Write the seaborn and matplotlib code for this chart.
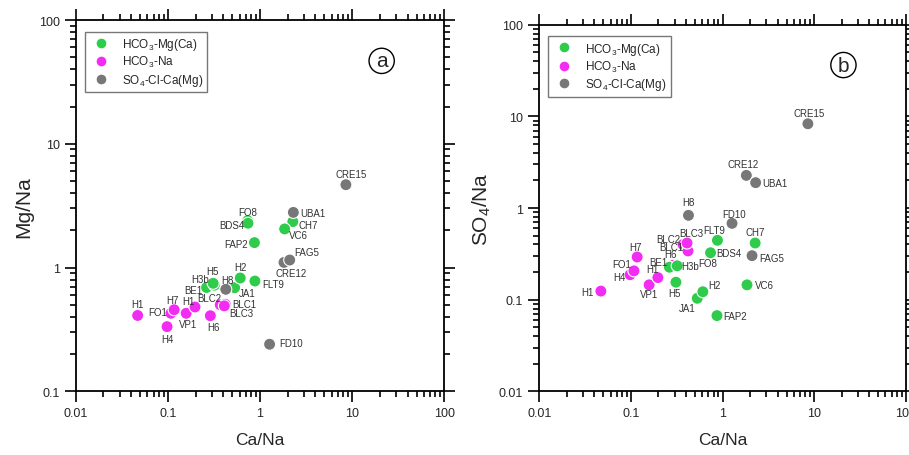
import numpy as np
import pandas as pd
import matplotlib
matplotlib.use("Agg")
import matplotlib.pyplot as plt
import seaborn as sns

# sample data
names = ["H1", "H4", "FO1", "H7", "VP1", "H1", "H6", "BLC2", "BLC1", "BLC3",
         "BE1", "H3b", "H5", "JA1", "H2", "FAP2", "FO8", "BDS4", "FLT9", "CH7", "VC6",
         "CRE15", "CRE12", "UBA1", "H8", "FD10", "FAG5"]
groups = ["HCO3-Na"] * 10 + ["HCO3-Mg(Ca)"] * 11 + ["SO4-Cl-Ca(Mg)"] * 6
ca_na = [0.047, 0.098, 0.108, 0.117, 0.158, 0.197, 0.289, 0.37, 0.42, 0.41,
         0.263, 0.32, 0.31, 0.53, 0.61, 0.87, 0.735, 0.74, 0.88, 2.27, 1.85,
         8.55, 1.82, 2.30, 0.425, 1.27, 2.10]
mg_na = [0.41, 0.333, 0.427, 0.456, 0.427, 0.48, 0.408, 0.50, 0.505, 0.49,
         0.69, 0.72, 0.746, 0.687, 0.823, 1.59, 2.39, 2.28, 0.778, 2.35, 2.05,
         4.67, 1.10, 2.79, 0.667, 0.24, 1.15]
so4_na = [0.124, 0.187, 0.206, 0.292, 0.145, 0.174, 0.237, 0.40, 0.34, 0.415,
          0.226, 0.234, 0.155, 0.1035, 0.122, 0.067, 0.32, 0.325, 0.444, 0.415, 0.145,
          8.3, 2.27, 1.89, 0.832, 0.68, 0.302]

# label offsets in pixels (dx, dy) for each panel
offs_a = [(0, 11), (0, -12), (-13, 1), (-2, 10), (2, -11), (-7, 6), (3, -11), (-11, 7), (19, 0), (17, -7),
          (-13, -3), (-14, 6), (-1, 12), (13, -5), (0, 11), (-18, -1), (0, 9), (-16, -2), (18, -3), (15, -3), (14, -6),
          (5, 11), (7, -11), (20, -1), (2, 9), (21, 1), (17, 8)]
offs_b = [(-13, -1), (-11, -2), (-12, 7), (-2, 10), (0, -9), (-5, 9), (-3, 11), (-15, 5), (-17, 4), (4, 10),
          (-11, 5), (13, 0), (-1, -11), (-10, -10), (12, 7), (18, 0), (-3, -10), (18, 0), (-3, 10), (0, 11), (17, 0),
          (1, 11), (-3, 11), (19, 0), (0, 13), (2, 9), (20, -2)]

df = pd.DataFrame({"name": names, "group": groups, "Ca/Na": ca_na,
                   "Mg/Na": mg_na, "SO4/Na": so4_na})

hue_order = ["HCO3-Mg(Ca)", "HCO3-Na", "SO4-Cl-Ca(Mg)"]
palette = {"HCO3-Mg(Ca)": "#2ecc4a", "HCO3-Na": "#f22cf2", "SO4-Cl-Ca(Mg)": "#777777"}
legend_labels = [r"HCO$_3$-Mg(Ca)", r"HCO$_3$-Na", r"SO$_4$-Cl-Ca(Mg)"]

sns.set_style("ticks")
plt.rcParams["font.family"] = ["Liberation Sans", "DejaVu Sans"]
plt.rcParams["mathtext.fontset"] = "custom"
plt.rcParams["mathtext.rm"] = "Liberation Sans"
plt.rcParams["mathtext.it"] = "Liberation Sans"

fig = plt.figure(figsize=(9.09, 4.56), dpi=100)
ax_a = fig.add_axes([0.0833, 0.1397, 0.4055, 0.8142])
ax_b = fig.add_axes([0.5933, 0.1397, 0.4031, 0.8039])


def draw_panel(ax, ycol, offs, ylim, ylabel, letter):
    sns.scatterplot(data=df, x="Ca/Na", y=ycol, hue="group", hue_order=hue_order,
                    palette=palette, s=75, edgecolor="white", linewidth=0.8,
                    ax=ax, zorder=3)
    for i, row in df.iterrows():
        ax.annotate(row["name"], (row["Ca/Na"], row[ycol]), xytext=offs[i],
                    textcoords="offset pixels", ha="center", va="center",
                    fontsize=7, color="#333333", zorder=4)
    ax.set_xscale("log")
    ax.set_yscale("log")
    ax.set_xlim(0.01, 100)
    ax.set_ylim(*ylim)
    ax.set_xlabel("Ca/Na", fontsize=12.5, labelpad=9)
    ax.set_ylabel(ylabel, fontsize=15)
    ax.xaxis.set_major_formatter(matplotlib.ticker.FuncFormatter(lambda v, p: f"{v:g}"))
    ax.yaxis.set_major_formatter(matplotlib.ticker.FuncFormatter(lambda v, p: f"{v:g}"))
    ax.tick_params(which="both", direction="out", top=True, right=True,
                   labeltop=False, labelright=False, labelsize=9, color="black", width=1.2)
    ax.tick_params(which="major", length=8)
    ax.tick_params(which="minor", length=4.5)
    for sp in ax.spines.values():
        sp.set_visible(True)
        sp.set_linewidth(1.3)
        sp.set_color("black")
    handles, _ = ax.get_legend_handles_labels()
    ax.legend(handles, legend_labels, loc="upper left", bbox_to_anchor=(0.024, 0.968),
              borderaxespad=0, fontsize=8.5, frameon=True, fancybox=False,
              edgecolor="#555555", labelspacing=0.2, handletextpad=0.8,
              borderpad=0.35, markerscale=0.9)
    ax.text(0.83, 0.89, letter, transform=ax.transAxes, fontsize=15,
            ha="center", va="center",
            bbox=dict(boxstyle="circle,pad=0.15", fc="white", ec="black", lw=1.0))


draw_panel(ax_a, "Mg/Na", offs_a, (0.1, 100), "Mg/Na", "a")
draw_panel(ax_b, "SO4/Na", offs_b, (0.01, 100), r"SO$_4$/Na", "b")

fig.savefig("out.png", dpi=100)
